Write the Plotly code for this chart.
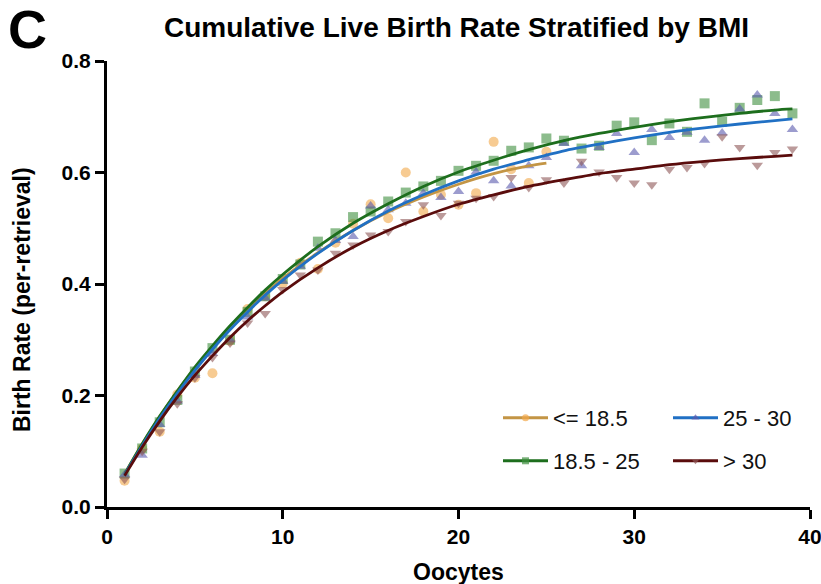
import plotly.graph_objects as go

# ---------------- data ----------------
oocytes = list(range(1, 40))
oocytes_low = list(range(1, 26))

bmi_low_pts = [0.047, 0.105, 0.135, 0.202, 0.232, 0.240, 0.298, 0.355, 0.378, 0.401,
               0.438, 0.427, 0.474, 0.508, 0.543, 0.518, 0.600, 0.530, 0.560, 0.542,
               0.563, 0.655, 0.606, 0.581, 0.637]
bmi_normal_pts = [0.060, 0.105, 0.152, 0.192, 0.243, 0.285, 0.300, 0.350, 0.378, 0.409,
                  0.435, 0.476, 0.491, 0.520, 0.530, 0.548, 0.564, 0.575, 0.585, 0.603,
                  0.612, 0.621, 0.639, 0.645, 0.661, 0.657, 0.643, 0.648, 0.684, 0.690,
                  0.658, 0.688, 0.673, 0.724, 0.691, 0.716, 0.730, 0.737, 0.706]
bmi_over_pts = [0.058, 0.093, 0.148, 0.190, 0.236, 0.276, 0.300, 0.341, 0.375, 0.405,
                0.432, 0.464, 0.478, 0.485, 0.540, 0.533, 0.545, 0.563, 0.555, 0.566,
                0.601, 0.585, 0.576, 0.612, 0.627, 0.652, 0.612, 0.645, 0.670, 0.636,
                0.677, 0.663, 0.672, 0.658, 0.671, 0.714, 0.739, 0.706, 0.677]
bmi_obese_pts = [0.050, 0.100, 0.135, 0.185, 0.232, 0.268, 0.294, 0.330, 0.347, 0.390,
                 0.416, 0.425, 0.455, 0.470, 0.488, 0.494, 0.512, 0.542, 0.523, 0.545,
                 0.554, 0.557, 0.591, 0.573, 0.587, 0.581, 0.620, 0.601, 0.591, 0.581,
                 0.578, 0.606, 0.609, 0.616, 0.664, 0.645, 0.613, 0.636, 0.642]

# fitted curves, read at selected oocyte counts
fit_x = [1, 2, 3, 4, 5, 6, 7, 8, 9, 10, 12, 14, 16, 18, 20, 22, 24, 26, 28, 30, 32, 34, 36, 38, 39]
fit_x_low = [1, 2, 3, 4, 5, 6, 7, 8, 9, 10, 12, 14, 16, 18, 20, 22, 24, 25]
fit_low = [0.059, 0.113, 0.162, 0.208, 0.249, 0.287, 0.322, 0.354, 0.383, 0.410,
           0.456, 0.496, 0.529, 0.556, 0.579, 0.598, 0.612, 0.617]
fit_normal = [0.059, 0.113, 0.163, 0.208, 0.251, 0.289, 0.325, 0.358, 0.389, 0.417,
              0.467, 0.509, 0.544, 0.575, 0.601, 0.622, 0.641, 0.657, 0.670, 0.681,
              0.691, 0.699, 0.706, 0.712, 0.714]
fit_over = [0.058, 0.110, 0.159, 0.204, 0.245, 0.283, 0.318, 0.350, 0.380, 0.407,
            0.455, 0.496, 0.531, 0.560, 0.585, 0.606, 0.623, 0.639, 0.651, 0.662,
            0.672, 0.680, 0.687, 0.693, 0.696]
fit_obese = [0.056, 0.107, 0.154, 0.197, 0.236, 0.271, 0.304, 0.334, 0.361, 0.386,
             0.429, 0.466, 0.496, 0.521, 0.543, 0.560, 0.575, 0.587, 0.598, 0.606,
             0.614, 0.620, 0.625, 0.629, 0.631]

labels = ["<= 18.5", "18.5 - 25", "25 - 30", "> 30"]
x_ticks = [0, 10, 20, 30, 40]
y_ticks = [0.0, 0.2, 0.4, 0.6, 0.8]

# ---------------- styling ----------------
FONT = "Liberation Sans, Arial, Helvetica, sans-serif"
line_cols = ["#C39545", "#1D6E1D", "#2070C4", "#5A0C0C"]
mark_cols = ["#F2A84A", "#3F8F3F", "#5A5AAE", "#8E5656"]
symbols = ["circle", "square", "triangle-up", "triangle-down"]
legends = ["legend", "legend3", "legend2", "legend4"]

pts_x = [oocytes_low, oocytes, oocytes, oocytes]
pts_y = [bmi_low_pts, bmi_normal_pts, bmi_over_pts, bmi_obese_pts]
fits_x = [fit_x_low, fit_x, fit_x, fit_x]
fits_y = [fit_low, fit_normal, fit_over, fit_obese]

fig = go.Figure()

for i in range(4):
    fig.add_trace(go.Scatter(
        x=pts_x[i], y=pts_y[i], mode="markers", showlegend=False,
        marker=dict(symbol=symbols[i], size=10, color=mark_cols[i], opacity=0.6,
                    line=dict(width=0))))

for i in range(4):
    fig.add_trace(go.Scatter(
        x=fits_x[i], y=fits_y[i], mode="lines", showlegend=False,
        line=dict(color=line_cols[i], width=2.8, shape="spline", smoothing=0.8)))

# legend-only entries
for i in range(4):
    fig.add_trace(go.Scatter(
        x=[None], y=[None], mode="lines+markers", name=labels[i], legend=legends[i],
        line=dict(color=line_cols[i], width=3),
        marker=dict(symbol=symbols[i], size=7, color=mark_cols[i], opacity=0.7)))

def pos_x(px):
    return (px - 107) / 703.0

def pos_y(py):
    return (507 - py) / 446.0

leg_common = dict(font=dict(family=FONT, size=22, color="#111111"),
                  bgcolor="rgba(0,0,0,0)", borderwidth=0,
                  xanchor="left", yanchor="middle", itemwidth=45)

fig.update_layout(
    width=821, height=584,
    margin=dict(l=107, r=11, t=61, b=77, autoexpand=False),
    paper_bgcolor="white", plot_bgcolor="white",
    font=dict(family=FONT, color="black"),
    legend=dict(x=pos_x(498), y=pos_y(418), **leg_common),
    legend3=dict(x=pos_x(498), y=pos_y(461), **leg_common),
    legend2=dict(x=pos_x(668), y=pos_y(418), **leg_common),
    legend4=dict(x=pos_x(668), y=pos_y(461), **leg_common),
    xaxis=dict(range=[0, 40], tickvals=x_ticks, ticktext=[str(v) for v in x_ticks],
               showgrid=False, zeroline=False, showline=True, linecolor="black",
               linewidth=3, ticks="outside", ticklen=9, tickwidth=3, tickcolor="black",
               ticklabeloverflow="allow", automargin=False,
               tickfont=dict(family=FONT, size=21, color="black", weight="bold")),
    yaxis=dict(range=[0, 0.8], tickvals=y_ticks, ticktext=[f"{v:.1f}" for v in y_ticks],
               showgrid=False, zeroline=False, showline=True, linecolor="black",
               linewidth=3, ticks="outside", ticklen=9, tickwidth=3, tickcolor="black",
               ticklabeloverflow="allow", automargin=False,
               tickfont=dict(family=FONT, size=21, color="black", weight="bold")),
    annotations=[
        dict(text="<b>Cumulative Live Birth Rate Stratified by BMI</b>",
             xref="paper", yref="paper", x=pos_x(456), y=pos_y(27),
             xanchor="center", yanchor="middle", showarrow=False,
             font=dict(family=FONT, size=28, color="black")),
        dict(text="<b>C</b>", xref="paper", yref="paper", x=pos_x(6), y=pos_y(29),
             xanchor="left", yanchor="middle", showarrow=False,
             font=dict(family=FONT, size=54, color="black")),
        dict(text="<b>Birth Rate (per-retrieval)</b>", textangle=-90,
             xref="paper", yref="paper", x=pos_x(22), y=pos_y(300),
             xanchor="center", yanchor="middle", showarrow=False,
             font=dict(family=FONT, size=23, color="black")),
        dict(text="<b>Oocytes</b>", xref="paper", yref="paper",
             x=pos_x(458), y=pos_y(572), xanchor="center", yanchor="middle",
             showarrow=False, font=dict(family=FONT, size=23, color="black")),
    ],
)

fig.write_html("out.html")
